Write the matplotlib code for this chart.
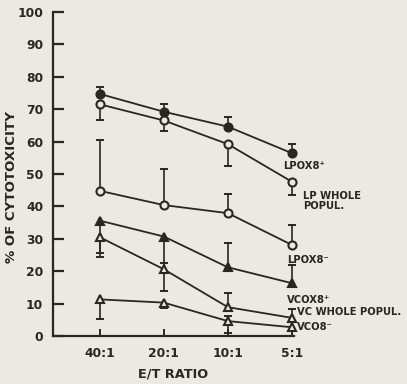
import numpy as np
import matplotlib
matplotlib.use("Agg")
import matplotlib.pyplot as plt

# E/T ratios on the x axis
ratios = ["40:1", "20:1", "10:1", "5:1"]

# % cytotoxicity per population, with lower / upper error bar lengths
lpox8_pos = [74.7, 69.2, 64.6, 56.4]
lpox8_pos_lo = [0, 0, 0, 0]
lpox8_pos_hi = [2.2, 2.3, 2.9, 2.8]

lp_whole = [71.5, 66.5, 59.2, 47.6]
lp_whole_lo = [4.8, 3.4, 6.9, 4.1]
lp_whole_hi = [0, 0, 0, 0]

lpox8_neg = [44.8, 40.4, 37.9, 28.1]
lpox8_neg_lo = [0, 0, 0, 0]
lpox8_neg_hi = [15.7, 11.1, 5.8, 6.2]

vcox8_pos = [35.6, 30.7, 21.2, 16.3]
vcox8_pos_lo = [9.9, 16.7, 0, 0]
vcox8_pos_hi = [0, 0, 7.6, 5.6]

vc_whole = [30.5, 20.6, 8.9, 5.6]
vc_whole_lo = [6.2, 0, 0, 0]
vc_whole_hi = [0, 2.0, 4.5, 2.6]

vco8_neg = [11.3, 10.3, 4.6, 2.7]
vco8_neg_lo = [6.1, 1.8, 3.6, 0]
vco8_neg_hi = [0, 0, 1.5, 0]

BG = "#ebe9e1"
INK = "#2a2622"

fig = plt.figure(figsize=(4.07, 3.84), dpi=100, facecolor=BG)
ax = fig.add_axes([0.130, 0.125, 0.592, 0.844], facecolor=BG)

x = np.arange(len(ratios))


def errbars(y, lo, hi):
    y = np.asarray(y, float)
    lo = np.asarray(lo, float)
    hi = np.asarray(hi, float)
    for xi, yi, l, h in zip(x, y, lo, hi):
        for end in ([yi - l] if l > 0 else []) + ([yi + h] if h > 0 else []):
            ax.plot([xi, xi], [end, yi], color=INK, lw=1.2, zorder=2,
                    clip_on=False)
            ax.plot([xi], [end], marker="_", ms=5.5, mew=1.4, color=INK,
                    zorder=2, clip_on=False)


series = [
    (lpox8_pos, lpox8_pos_lo, lpox8_pos_hi, "o", INK),
    (lp_whole, lp_whole_lo, lp_whole_hi, "o", BG),
    (lpox8_neg, lpox8_neg_lo, lpox8_neg_hi, "o", BG),
    (vcox8_pos, vcox8_pos_lo, vcox8_pos_hi, "^", INK),
    (vc_whole, vc_whole_lo, vc_whole_hi, "^", BG),
    (vco8_neg, vco8_neg_lo, vco8_neg_hi, "^", BG),
]

for y, lo, hi, mk, fc in series:
    errbars(y, lo, hi)
    ax.plot(x, y, color=INK, lw=1.3, zorder=3, clip_on=False)
    ax.plot(x, y, ls="none", marker=mk, ms=5.8 if mk == "o" else 6.3,
            mfc=fc, mec=INK, mew=1.5, zorder=4, clip_on=False)

# series labels at the right end of the lines
lab_kw = dict(fontsize=7.2, fontweight="bold", color=INK, clip_on=False,
              va="center", ha="left")
ax.text(2.86, 52.5, "LPOX8\u207a", **lab_kw)
ax.text(3.17, 41.7, "LP WHOLE\nPOPUL.", linespacing=0.95, **lab_kw)
ax.text(2.92, 23.5, "LPOX8\u207b", **lab_kw)
ax.text(2.92, 11.1, "VCOX8\u207a", **lab_kw)
ax.text(3.08, 7.4, "VC WHOLE POPUL.", **lab_kw)
ax.text(3.08, 2.8, "VCO8\u207b", **lab_kw)

ax.set_xlim(-0.73, 3.03)
ax.set_ylim(0, 100)
ax.set_xticks(x)
ax.set_xticklabels(ratios)
ax.set_yticks(np.arange(0, 101, 10))

for s in ("top", "right"):
    ax.spines[s].set_visible(False)
for s in ("left", "bottom"):
    ax.spines[s].set_color(INK)
    ax.spines[s].set_linewidth(1.6)

ax.tick_params(axis="y", direction="in", length=8, width=1.6, color=INK,
               labelsize=8.8, labelcolor=INK, pad=7)
ax.tick_params(axis="x", direction="in", length=5, width=1.4, color=INK,
               labelsize=8.8, labelcolor=INK, pad=8)
for t in ax.get_xticklabels() + ax.get_yticklabels():
    t.set_fontweight("bold")

ax.set_xlabel("E/T RATIO", fontsize=9.3, fontweight="bold", color=INK, labelpad=5)
ax.set_ylabel("% OF CYTOTOXICITY", fontsize=9.6, fontweight="bold", color=INK)
ax.yaxis.set_label_coords(-0.145, 0.46)

fig.savefig("out.png", dpi=100, facecolor=BG)
